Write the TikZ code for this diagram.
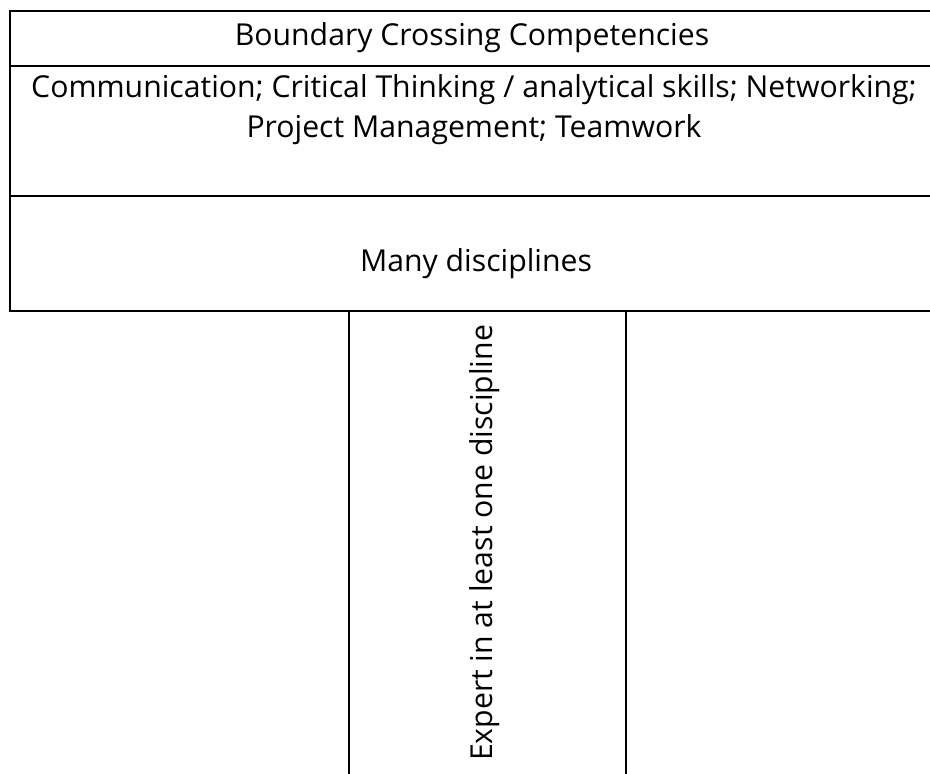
\documentclass[tikz,border=0pt]{standalone}
\usepackage{fontspec}
\setmainfont{Open Sans}
\usetikzlibrary{positioning}

\tikzset{
  celltext/.style={font=\fontsize{30.2}{40}\selectfont, inner sep=0pt, align=center},
  rule/.style={line width=1.5pt}
}

\begin{document}
\begin{tikzpicture}[x=1pt,y=-1pt]
            \useasboundingbox (0,0) rectangle (930,774);

            % the top block (its right edge runs off the page)
            \draw[rule] (931,11) -- (10,11) -- (10,311) -- (931,311);
            \draw[rule] (10,66) -- (931,66);
            \draw[rule] (10,196) -- (931,196);

            % the stem
            \draw[rule] (349,311) -- (349,775);
            \draw[rule] (626,311) -- (626,775);

            % text in the rows
            \node[celltext] (title) at (472,38) {Boundary Crossing Competencies};
            \node[celltext] (skills) at (474,110) {Communication; Critical Thinking / analytical skills; Networking;\\Project Management; Teamwork};
            \node[celltext] (many) at (476,264) {Many disciplines};

            % text up the stem
            \node[celltext, rotate=90] (expert) at (485,543) {Expert in at least one discipline};
        \end{tikzpicture}
\end{document}
